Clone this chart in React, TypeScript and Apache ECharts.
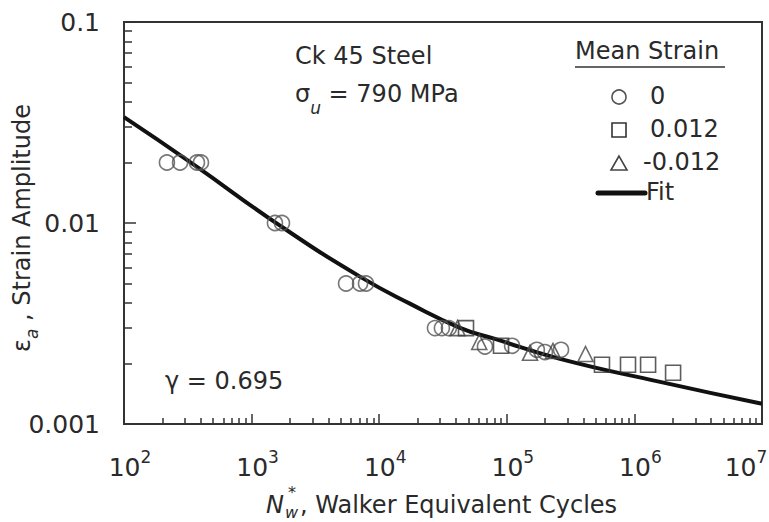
import React, { useEffect, useRef } from "react";
import * as echarts from "echarts";

// Mean strain 0 (circles): [N*w, strain amplitude]
const circlePts: [number, number][] = [
  [217, 0.02], [275, 0.02], [373, 0.02], [401, 0.02],
  [1524, 0.01], [1730, 0.01],
  [5500, 0.005], [7080, 0.005], [7880, 0.005],
  [27350, 0.003], [31000, 0.003], [35200, 0.003],
  [67400, 0.00243], [110000, 0.00245],
  [172000, 0.00234], [199000, 0.00228], [266000, 0.00234],
];
// Mean strain 0.012 (squares)
const squarePts: [number, number][] = [
  [47900, 0.003], [90100, 0.00245], [557000, 0.00197],
  [891000, 0.00197], [1280000, 0.00197], [2010000, 0.0018],
];
// Mean strain -0.012 (triangles)
const trianglePts: [number, number][] = [
  [41100, 0.003], [60800, 0.00256], [152000, 0.00226],
  [230000, 0.00231], [414000, 0.00223],
];
// Fit curve
const fitPts: [number, number][] = [
  [100, 0.0336], [341, 0.0198], [1670, 0.0097], [7070, 0.00541],
  [17400, 0.00397], [43000, 0.00301], [80800, 0.00265],
  [261000, 0.00211], [1590000, 0.00162], [10000000, 0.00126],
];

const xMajor = [1e2, 1e3, 1e4, 1e5, 1e6, 1e7];
const xExponents = ["2", "3", "4", "5", "6", "7"];
const yMajor = [0.001, 0.01, 0.1];
const yTickLabels = ["0.001", "0.01", "0.1"];
const minorMultipliers = [2, 3, 4, 5, 6, 7, 8, 9];

const FONT = "DejaVu Sans";
const TXT = "#2a2a2a";

export default function App() {
  const ref = useRef<HTMLDivElement>(null);
  useEffect(() => {
    if (!ref.current) return;
    const chart = echarts.init(ref.current, undefined, { renderer: "svg" });

    const xMinor: number[] = [];
    for (let i = 0; i < xMajor.length - 1; i++) minorMultipliers.forEach((m) => xMinor.push(xMajor[i] * m));
    const yMinor: number[] = [];
    for (let i = 0; i < yMajor.length - 1; i++) minorMultipliers.forEach((m) => yMinor.push(yMajor[i] * m));

    const closestIdx = (arr: number[], v: number) => {
      let best = 0;
      arr.forEach((a, i) => {
        if (Math.abs(Math.log10(a) - Math.log10(v)) < Math.abs(Math.log10(arr[best]) - Math.log10(v))) best = i;
      });
      return best;
    };

    const frameColor = "#333";
    const option: any = {
      animation: false,
      backgroundColor: "#fff",
      grid: {
        left: 124, right: 7, top: 22, bottom: 98,
        containLabel: false, outerBoundsMode: "none",
        show: true, borderColor: frameColor, borderWidth: 2, backgroundColor: "transparent",
      },
      xAxis: [
        {
          type: "log", logBase: 10, min: 100, max: 1e7, position: "bottom",
          axisLine: { show: true, lineStyle: { color: frameColor, width: 2 } },
          axisTick: { show: true, inside: true, length: 10, customValues: xMajor, lineStyle: { color: frameColor, width: 1.5 } },
          splitLine: { show: false },
          axisLabel: {
            show: true, margin: 24, customValues: xMajor,
            formatter: (v: number) => {
              const i = closestIdx(xMajor, v);
              return i === xMajor.length - 1
                ? `{b|10}{sup|${xExponents[i]}}{pad2| }`
                : `{pad| }{b|10}{sup|${xExponents[i]}}`;
            },
            rich: {
              pad: { width: 12, fontSize: 12 },
              pad2: { width: 32, fontSize: 12 },
              b: { fontSize: 25, fontFamily: FONT, color: TXT, lineHeight: 32, verticalAlign: "bottom" },
              sup: { fontSize: 17, fontFamily: FONT, color: TXT, lineHeight: 17, verticalAlign: "top" },
            },
          },
        },
        {
          type: "log", logBase: 10, min: 100, max: 1e7, position: "bottom",
          axisLine: { show: false },
          axisTick: { show: true, inside: true, length: 6, customValues: xMinor, lineStyle: { color: frameColor, width: 1.5 } },
          axisLabel: { show: false },
          splitLine: { show: false },
        },
      ],
      yAxis: [
        {
          type: "log", logBase: 10, min: 0.001, max: 0.1, position: "left",
          axisLine: { show: true, lineStyle: { color: frameColor, width: 2 } },
          axisTick: { show: true, inside: true, length: 12, customValues: yMajor, lineStyle: { color: frameColor, width: 1.5 } },
          splitLine: { show: false },
          axisLabel: {
            show: true, margin: 24, customValues: yMajor,
            formatter: (v: number) => yTickLabels[closestIdx(yMajor, v)],
            fontSize: 25, fontFamily: FONT, color: TXT,
          },
        },
        {
          type: "log", logBase: 10, min: 0.001, max: 0.1, position: "left",
          axisLine: { show: false },
          axisTick: { show: true, inside: true, length: 8, customValues: yMinor, lineStyle: { color: frameColor, width: 1.5 } },
          axisLabel: { show: false },
          splitLine: { show: false },
        },
      ],
      series: [
        {
          name: "Fit", type: "line", data: fitPts, smooth: 0.5, symbol: "none",
          lineStyle: { color: "#111", width: 4 }, z: 2,
        },
        {
          name: "0", type: "scatter", data: circlePts, symbol: "circle", symbolSize: 15,
          itemStyle: { color: "rgba(0,0,0,0)", borderColor: "#555", borderWidth: 1.6 }, z: 3,
        },
        {
          name: "0.012", type: "scatter", data: squarePts, symbol: "rect", symbolSize: 15,
          itemStyle: { color: "rgba(0,0,0,0)", borderColor: "#333", borderWidth: 1.6 }, z: 3,
        },
        {
          name: "-0.012", type: "scatter", data: trianglePts, symbol: "triangle", symbolSize: 15,
          itemStyle: { color: "rgba(0,0,0,0)", borderColor: "#444", borderWidth: 1.6 }, z: 3,
        },
      ],
      graphic: [
        // y axis name
        {
          type: "text", x: 25, y: 228, rotation: Math.PI / 2,
          style: {
            text: "{e|ε}{s|a}{n| , Strain Amplitude}",
            align: "center", verticalAlign: "middle",
            rich: {
              e: { fontSize: 24, fontFamily: FONT, fill: TXT, lineHeight: 30, verticalAlign: "top" },
              s: { fontSize: 17, fontFamily: FONT, fontStyle: "italic", fill: TXT, lineHeight: 30, verticalAlign: "bottom" },
              n: { fontSize: 24, fontFamily: FONT, fill: TXT, lineHeight: 30, verticalAlign: "top" },
            },
          },
        },
        { type: "text", left: 295, top: 44, style: { text: "Ck 45 Steel", font: `24px "${FONT}"`, fill: TXT } },
        {
          type: "text", left: 295, top: 82,
          style: {
            text: "{a|σ}{b|u}{c| = 790 MPa}",
            rich: {
              a: { fontSize: 24, fontFamily: FONT, fill: TXT, lineHeight: 34, verticalAlign: "top" },
              b: { fontSize: 17, fontFamily: FONT, fontStyle: "italic", fill: TXT, lineHeight: 34, verticalAlign: "bottom" },
              c: { fontSize: 24, fontFamily: FONT, fill: TXT, lineHeight: 34, verticalAlign: "top" },
            },
          },
        },
        { type: "text", left: 165, top: 369, style: { text: "γ = 0.695", font: `24px "${FONT}"`, fill: TXT } },
        // legend
        { type: "text", left: 575, top: 39, style: { text: "Mean Strain", font: `24px "${FONT}"`, fill: TXT } },
        { type: "line", shape: { x1: 575, y1: 67, x2: 725, y2: 67 }, style: { stroke: "#333", lineWidth: 1.5 } },
        { type: "circle", shape: { cx: 619, cy: 97, r: 7 }, style: { fill: "none", stroke: "#555", lineWidth: 1.6 } },
        { type: "text", left: 650, top: 84, style: { text: "0", font: `24px "${FONT}"`, fill: TXT } },
        { type: "rect", shape: { x: 612, y: 123, width: 14, height: 14 }, style: { fill: "none", stroke: "#333", lineWidth: 1.6 } },
        { type: "text", left: 650, top: 117, style: { text: "0.012", font: `24px "${FONT}"`, fill: TXT } },
        { type: "polygon", shape: { points: [[619, 156], [611, 170], [627, 170]] }, style: { fill: "none", stroke: "#444", lineWidth: 1.6 } },
        { type: "text", left: 643, top: 150, style: { text: "-0.012", font: `24px "${FONT}"`, fill: TXT } },
        { type: "line", shape: { x1: 598, y1: 193, x2: 645, y2: 193 }, style: { stroke: "#111", lineWidth: 5, lineCap: "round" } },
        { type: "text", left: 646, top: 180, style: { text: "Fit", font: `24px "${FONT}"`, fill: TXT } },
        // x axis name
        { type: "text", left: 266, top: 493, style: { text: "N", font: `italic 24px "${FONT}"`, fill: TXT } },
        { type: "text", left: 288, top: 484, style: { text: "*", font: `16px "${FONT}"`, fill: TXT } },
        { type: "text", left: 285, top: 504, style: { text: "w", font: `italic 16px "${FONT}"`, fill: TXT } },
        { type: "text", left: 300, top: 493, style: { text: ", Walker Equivalent Cycles", font: `24px "${FONT}"`, fill: TXT } },
      ],
    };
    chart.setOption(option);
    return () => chart.dispose();
  }, []);
  return (
    <div
      ref={ref}
      style={{ position: "fixed", left: 0, top: 0, width: 769, height: 522, background: "#fff" }}
    />
  );
}
